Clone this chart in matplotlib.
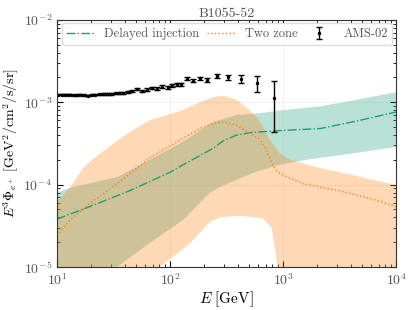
import numpy as np
import matplotlib.pyplot as plt

plt.rcParams['font.family'] = 'serif'
plt.rcParams['font.serif'] = ['cmr10', 'DejaVu Serif']
plt.rcParams['mathtext.fontset'] = 'cm'
plt.rcParams['axes.formatter.use_mathtext'] = True

# AMS-02 positron data
ams_E = [10.3, 11.0, 11.8, 12.6, 13.4, 14.3, 15.3, 16.4, 17.6, 18.9,
         20.3, 21.9, 23.6, 25.5, 27.6, 29.9, 32.4, 35.3, 38.5, 42.1,
         46.2, 50.9, 56.1, 62.0, 68.8, 76.5, 85.4, 95.7, 105, 115,
         125, 141, 159, 184, 214, 263, 326, 428, 587, 832]
ams_flux = [1.24, 1.24, 1.23, 1.23, 1.23, 1.22, 1.23, 1.24, 1.21, 1.20,
            1.23, 1.24, 1.25, 1.26, 1.26, 1.27, 1.28, 1.29, 1.30, 1.32,
            1.36, 1.44, 1.38, 1.42, 1.50, 1.46, 1.55, 1.52, 1.60, 1.66,
            1.66, 1.92, 1.83, 1.95, 1.87, 2.08, 2.00, 1.92, 1.70, 1.11]
ams_err = [0.02, 0.02, 0.02, 0.02, 0.02, 0.02, 0.02, 0.02, 0.02, 0.02,
           0.02, 0.02, 0.02, 0.03, 0.03, 0.03, 0.03, 0.03, 0.03, 0.04,
           0.04, 0.04, 0.04, 0.05, 0.05, 0.05, 0.06, 0.06, 0.06, 0.07,
           0.07, 0.08, 0.08, 0.08, 0.09, 0.11, 0.13, 0.20, 0.38, 0.68]

# delayed injection model (line + band)
di_E = [10, 19.5, 44.7, 100, 123, 240, 300, 389, 513, 813, 2140, 4470, 10000]
di_flux = [3.8e-5, 5.4e-5, 8.5e-5, 1.41e-4, 1.66e-4, 2.75e-4, 3.45e-4,
           3.98e-4, 4.27e-4, 4.47e-4, 4.79e-4, 5.9e-4, 7.6e-4]
di_hi_E = [10, 13, 34, 66, 123, 240, 389, 661, 933, 2140, 4470, 8320, 10000]
di_hi = [7.94e-5, 9.12e-5, 1.23e-4, 2.0e-4, 3.16e-4, 5.75e-4, 7.0e-4,
         7.41e-4, 7.94e-4, 8.91e-4, 1.07e-3, 1.26e-3, 1.32e-3]
di_lo_E = [10, 34, 66, 130, 224, 275, 537, 933, 1620, 4170, 10000]
di_lo = [1.6e-6, 1.0e-5, 1.95e-5, 3.7e-5, 7.9e-5, 9.3e-5, 1.38e-4,
         1.74e-4, 2.0e-4, 2.4e-4, 2.85e-4]

# two zone model (line + band)
tz_E = [10, 13, 19.5, 34, 66, 123, 184, 240, 295, 389, 513, 631, 724,
        813, 891, 1000, 1150, 1510, 3020, 5890, 10000]
tz_flux = [2.4e-5, 3.7e-5, 5.9e-5, 1.02e-4, 2.1e-4, 3.47e-4, 4.8e-4,
           5.5e-4, 5.75e-4, 5.25e-4, 4.17e-4, 3.47e-4, 2.5e-4, 1.7e-4,
           1.45e-4, 1.3e-4, 1.2e-4, 1.02e-4, 8.5e-5, 6.8e-5, 5.4e-5]
tz_hi_E = [10, 13, 17, 19.5, 34, 44.7, 66, 107, 123, 184, 240, 295, 389,
           479, 589, 661, 767, 933, 1150, 2140, 4170, 10000]
tz_hi = [6.2e-5, 9.1e-5, 1.58e-4, 1.9e-4, 3.4e-4, 4.4e-4, 6.0e-4, 7.4e-4,
         7.8e-4, 1.0e-3, 1.15e-3, 1.2e-3, 1.07e-3, 8.5e-4, 6.5e-4, 5.0e-4,
         3.47e-4, 2.4e-4, 2.0e-4, 1.58e-4, 1.3e-4, 9.8e-5]
tz_lo_E = [10, 81, 151, 224, 275, 417, 661, 794, 851, 904, 1000, 10000]
tz_lo = [3e-7, 1.0e-5, 1.95e-5, 3.5e-5, 4.0e-5, 4.2e-5, 3.9e-5, 2.95e-5,
         1.6e-5, 8.9e-6, 1e-6, 1e-6]

green = '#1b9e77'
orange = '#ff7f0e'

fig = plt.figure(figsize=(4.13, 3.10), dpi=100)
ax = fig.add_axes([0.138, 0.139, 0.821, 0.797])
ax.set_axisbelow(True)

ax.fill(di_hi_E + di_lo_E[::-1], di_hi + di_lo[::-1], color=green, alpha=0.3, lw=0)
ax.fill(tz_hi_E + tz_lo_E[::-1], tz_hi + tz_lo[::-1], color=orange, alpha=0.3, lw=0)
ax.plot(di_E, di_flux, '-.', color=green, lw=1, label='Delayed injection')
ax.plot(tz_E, tz_flux, ':', color=orange, lw=1, label='Two zone')
ax.errorbar(ams_E, np.array(ams_flux) * 1e-3, yerr=np.array(ams_err) * 1e-3,
            fmt='o', color='k', ms=1.5, elinewidth=1, capsize=2, capthick=1,
            label='AMS-02')

ax.set_xscale('log')
ax.set_yscale('log')
ax.set_xlim(10, 1e4)
ax.set_ylim(1e-5, 1e-2)
ax.grid(True, which='major', color='#f0f0f0', lw=0.6)
ax.tick_params(which='both', direction='in', top=True, right=True, labelcolor='#555', labelsize=10)
ax.tick_params(which='major', length=4)
ax.tick_params(which='minor', length=2)
for s in ax.spines.values():
    s.set_color('#333')

ax.set_xlabel(r'$E\ [\mathrm{GeV}]$', fontsize=11, labelpad=1)
ax.set_ylabel(r'$E^3\Phi_{e^+}\ [\mathrm{GeV}^2/\mathrm{cm}^2/\mathrm{s}/\mathrm{sr}]$', fontsize=10, labelpad=2)
ax.set_title('B1055-52', fontsize=10, color='#555', pad=2)

leg = ax.legend(loc='lower left', bbox_to_anchor=(0.015, 0.9, 0.973, 0.08), mode='expand',
                ncol=3, fontsize=9, handlelength=2.2, borderaxespad=0, borderpad=0.35,
                framealpha=1, edgecolor='#ddd', fancybox=True)
for t in leg.get_texts():
    t.set_color('#555')

fig.savefig('out.png', dpi=100)
